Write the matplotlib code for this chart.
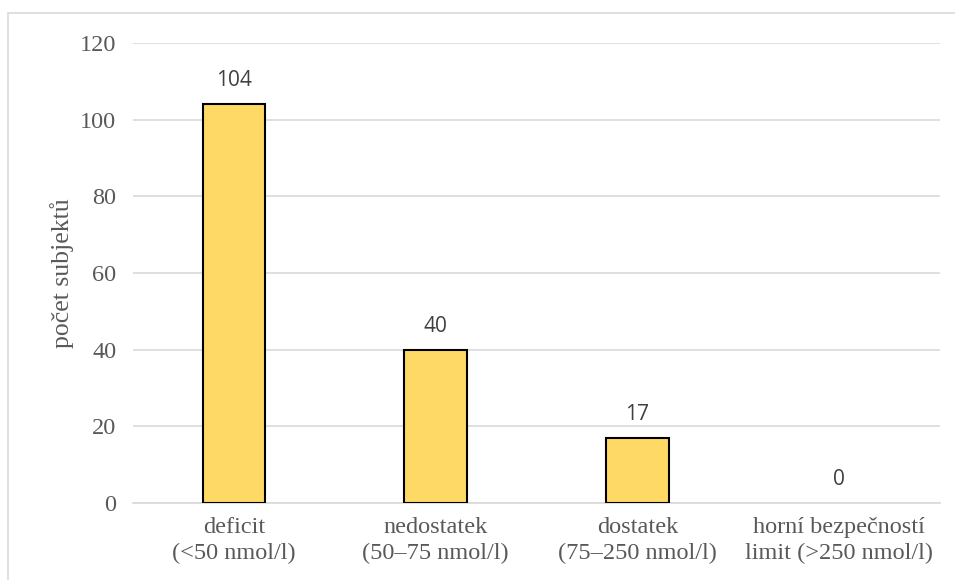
import matplotlib
matplotlib.use("Agg")
import matplotlib.pyplot as plt
from matplotlib.patches import Rectangle

categories = ["deficit\n(<50 nmol/l)", "nedostatek\n(50–75 nmol/l)",
              "dostatek\n(75–250 nmol/l)", "horní bezpečností\nlimit (>250 nmol/l)"]
counts = [104, 40, 17, 0]
yticks = [0, 20, 40, 60, 80, 100, 120]

serif = ["Liberation Serif", "DejaVu Serif"]
sans = ["Open Sans", "DejaVu Sans"]

fig = plt.figure(figsize=(9.55, 5.8), dpi=100)
ax = fig.add_axes([133 / 955, 1 - 503 / 580, 807 / 955, 460 / 580])

x = range(len(counts))
# empty categories get no outline
widths = [1.5 if v > 0 else 0 for v in counts]
ax.bar(x, counts, width=0.31, color="#FFD966", edgecolor="black", linewidth=widths, zorder=3)

for xi, v in zip(x, counts):
    ax.annotate(str(v), (xi, v), xytext=(0, 13), textcoords="offset points",
                ha="center", va="baseline", fontsize=15, color="#404040", family=sans)

ax.set_xlim(-0.5, len(counts) - 0.5)
ax.set_ylim(0, 120)
ax.set_yticks(yticks)
ax.set_xticks(list(x))
ax.set_xticklabels(categories, family=serif, fontsize=17.5, color="#595959", linespacing=1.32)
ax.set_yticklabels([str(t) for t in yticks], family=serif, fontsize=17.5, color="#595959")
ax.tick_params(axis="both", length=0)
ax.tick_params(axis="y", pad=12)
ax.tick_params(axis="x", pad=10)

ax.grid(axis="y", color="#D9D9D9", linewidth=1.2, zorder=0)
for side in ["top", "right", "left"]:
    ax.spines[side].set_visible(False)
ax.spines["bottom"].set_color("#D9D9D9")
ax.spines["bottom"].set_linewidth(1.2)

ax.set_ylabel("počet subjektů", family=serif, fontsize=18.5, color="#595959", labelpad=4)

# chart frame, open to the right and bottom
fig.patches.append(Rectangle((7.5 / 955, -0.1), 1.2, 1.1 - 13.5 / 580, transform=fig.transFigure,
                             fill=False, edgecolor="#D9D9D9", linewidth=1.2))

fig.savefig("out.png", dpi=100)
